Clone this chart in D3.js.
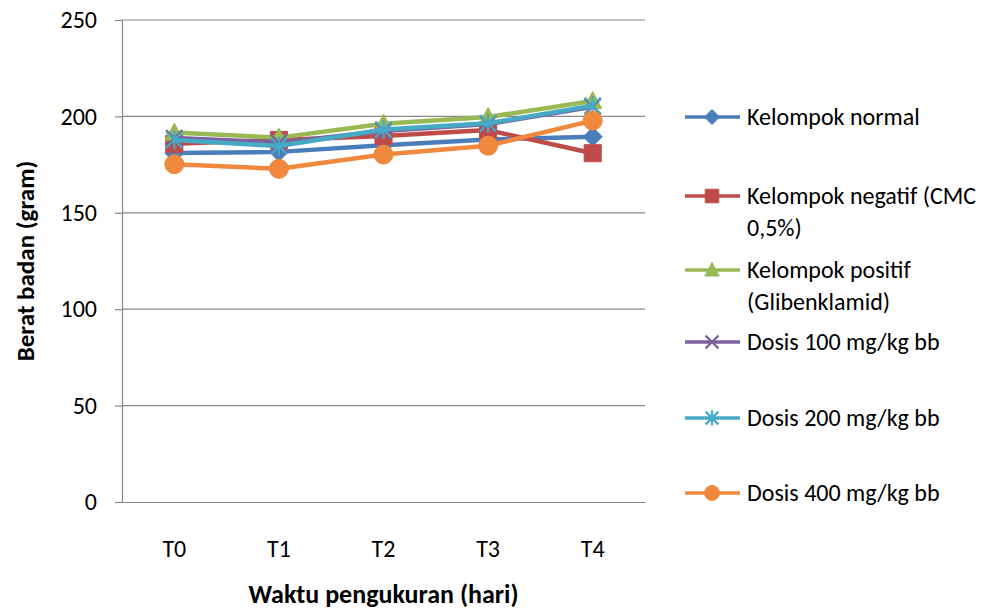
<!DOCTYPE html>
<html>
<head>
<meta charset="utf-8">
<script src="https://cdn.jsdelivr.net/npm/d3@7"></script>
<style>
  html, body { margin: 0; padding: 0; background: #fff; }
  svg { display: block; font-family: Carlito, Lato, "Open Sans", sans-serif; }
</style>
</head>
<body>
<svg id="chart" width="981" height="612"></svg>
<script>
// Body weight per group over measurement times
const categories = ["T0", "T1", "T2", "T3", "T4"];
const seriesNames = [
  ["Kelompok normal"],
  ["Kelompok negatif (CMC", "0,5%)"],
  ["Kelompok positif", "(Glibenklamid)"],
  ["Dosis 100  mg/kg bb"],
  ["Dosis 200  mg/kg bb"],
  ["Dosis 400  mg/kg bb"]
];
const normal   = [181, 181.6, 185, 188, 189.5];
const negatif  = [185.8, 187.8, 189.8, 192.9, 180.9];
const positif  = [191.6, 189, 196.2, 199.7, 208];
const dosis100 = [188.8, 186.4, 192.4, 196, 205];
const dosis200 = [187.8, 184.6, 193.2, 196.4, 205.6];
const dosis400 = [175.2, 172.8, 180.2, 184.8, 197.8];
const yTicks = [0, 50, 100, 150, 200, 250];

const seriesValues = [normal, negatif, positif, dosis100, dosis200, dosis400];
const colors = ["#4A7EBB", "#BE4B48", "#98B954", "#7D60A0", "#46AAC5", "#F0883E"];
const shapes = ["diamond", "square", "triangle", "x", "star", "circle"];

const FONT = "Carlito, Lato, 'Open Sans', sans-serif";
const svg = d3.select("#chart");
const plot = { left: 122, right: 645, top: 20, bottom: 502 };

const x = d3.scaleBand().domain(categories).range([plot.left, plot.right]);
const y = d3.scaleLinear().domain([0, 250]).range([plot.bottom, plot.top]);
const cx = c => x(c) + x.bandwidth() / 2;

// horizontal gridlines
svg.append("g").selectAll("line").data(yTicks.filter(t => t > 0)).join("line")
  .attr("x1", plot.left).attr("x2", plot.right)
  .attr("y1", d => y(d)).attr("y2", d => y(d))
  .attr("stroke", "#878787").attr("stroke-width", 1.2);

// y axis
const yAxis = svg.append("g").attr("transform", `translate(${plot.left},0)`)
  .call(d3.axisLeft(y).tickValues(yTicks).tickSize(7).tickPadding(18).tickFormat(d3.format("d")));
yAxis.select(".domain").attr("stroke", "#878787").attr("stroke-width", 1.2);
yAxis.selectAll(".tick line").attr("stroke", "#878787").attr("stroke-width", 1.2);
yAxis.selectAll("text").attr("font-size", 24).attr("fill", "#000").style("font-family", FONT);

// x axis
const xAxis = svg.append("g").attr("transform", `translate(0,${plot.bottom})`)
  .call(d3.axisBottom(x).tickSize(0).tickPadding(38));
xAxis.select(".domain").attr("stroke", "#878787").attr("stroke-width", 1.2);
xAxis.selectAll("text").attr("font-size", 24).attr("fill", "#000").style("font-family", FONT);

// axis titles
svg.append("text").attr("x", (plot.left + plot.right) / 2).attr("y", 603)
  .attr("text-anchor", "middle").attr("font-size", 26).attr("font-weight", "bold")
  .text("Waktu pengukuran (hari)");
svg.append("text").attr("transform", `translate(34,${(plot.top + plot.bottom) / 2}) rotate(-90)`)
  .attr("text-anchor", "middle").attr("font-size", 25).attr("font-weight", "bold")
  .text("Berat badan  (gram)");

// marker path for a shape of size s centred at 0,0
function markerPath(shape, s) {
  const h = s / 2;
  const p = d3.path();
  if (shape === "diamond") {
    p.moveTo(0, -h); p.lineTo(h, 0); p.lineTo(0, h); p.lineTo(-h, 0); p.closePath();
  } else if (shape === "square") {
    p.rect(-h * 0.9, -h * 0.9, s * 0.9, s * 0.9);
  } else if (shape === "triangle") {
    p.moveTo(0, -h); p.lineTo(h * 0.95, h * 0.8); p.lineTo(-h * 0.95, h * 0.8); p.closePath();
  } else if (shape === "circle") {
    p.arc(0, 0, h, 0, 2 * Math.PI); p.closePath();
  } else if (shape === "x" || shape === "star") {
    const k = h * 0.85;
    p.moveTo(-k, -k); p.lineTo(k, k); p.moveTo(k, -k); p.lineTo(-k, k);
    if (shape === "star") { p.moveTo(0, -h); p.lineTo(0, h); }
  }
  return p.toString();
}
function drawMarker(g, shape, color, s) {
  const stroked = shape === "x" || shape === "star";
  g.append("path").attr("d", markerPath(shape, s))
    .attr("fill", stroked ? "none" : color)
    .attr("stroke", color).attr("stroke-width", stroked ? 2.2 : 1);
}

// series lines and markers
const line = d3.line().x((d, i) => cx(categories[i])).y(d => y(d));
seriesValues.forEach((vals, si) => {
  const g = svg.append("g");
  g.append("path").datum(vals).attr("d", line)
    .attr("fill", "none").attr("stroke", colors[si]).attr("stroke-width", 4.5)
    .attr("stroke-linejoin", "round");
  vals.forEach((v, i) => {
    const m = g.append("g").attr("transform", `translate(${cx(categories[i])},${y(v)})`);
    drawMarker(m, shapes[si], colors[si], 19);
  });
});

// legend
const legendY = [117, 196, 270, 342, 418, 493];
const legend = svg.append("g");
seriesNames.forEach((lines, si) => {
  const g = legend.append("g").attr("transform", `translate(0,${legendY[si]})`);
  g.append("line").attr("x1", 685).attr("x2", 740).attr("y1", 0).attr("y2", 0)
    .attr("stroke", colors[si]).attr("stroke-width", 3.3);
  const m = g.append("g").attr("transform", "translate(712,0)");
  drawMarker(m, shapes[si], colors[si], 15);
  lines.forEach((t, li) => {
    g.append("text").attr("x", 747).attr("y", li * 31.5).attr("dy", "0.35em")
      .attr("font-size", 24).attr("fill", "#000").text(t);
  });
});
</script>
</body>
</html>
